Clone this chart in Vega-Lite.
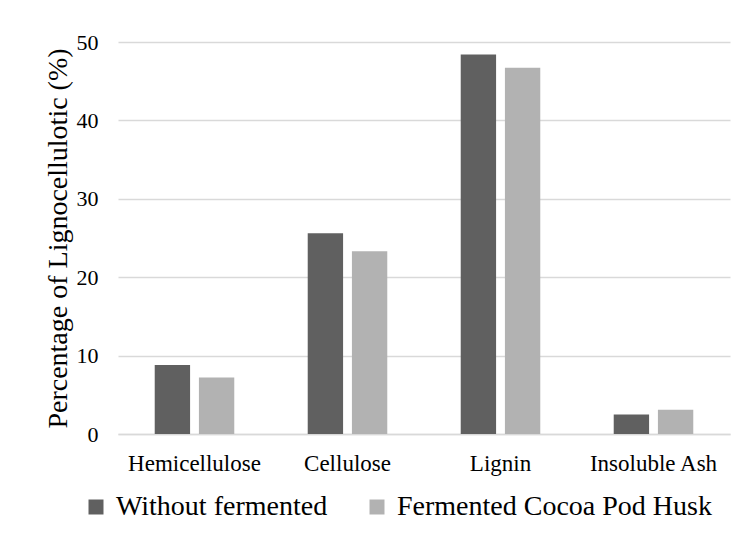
{
  "$schema": "https://vega.github.io/schema/vega-lite/v6.json",
  "autosize": {"type": "none"},
  "padding": {"left": 118, "top": 42, "right": 4, "bottom": 104},
  "width": 612,
  "height": 392,
  "background": "white",
  "config": {
    "view": {"stroke": null},
    "font": "Liberation Serif"
  },
  "data": {
    "values": [
      {"component": "Hemicellulose", "series": "Without fermented", "value": 8.8},
      {"component": "Hemicellulose", "series": "Fermented Cocoa Pod Husk", "value": 7.2},
      {"component": "Cellulose", "series": "Without fermented", "value": 25.6},
      {"component": "Cellulose", "series": "Fermented Cocoa Pod Husk", "value": 23.3},
      {"component": "Lignin", "series": "Without fermented", "value": 48.4},
      {"component": "Lignin", "series": "Fermented Cocoa Pod Husk", "value": 46.7},
      {"component": "Insoluble Ash", "series": "Without fermented", "value": 2.5},
      {"component": "Insoluble Ash", "series": "Fermented Cocoa Pod Husk", "value": 3.1}
    ]
  },
  "mark": {"type": "bar"},
  "encoding": {
    "x": {
      "field": "component",
      "type": "nominal",
      "sort": ["Hemicellulose", "Cellulose", "Lignin", "Insoluble Ash"],
      "scale": {"paddingInner": 0.48, "paddingOuter": 0.24},
      "axis": {
        "title": null,
        "labelAngle": 0,
        "labelFont": "Liberation Serif",
        "labelFontSize": 23,
        "labelColor": "#000000",
        "labelPadding": 18,
        "labelLimit": 300,
        "ticks": false,
        "domainColor": "#d9d9d9",
        "domainWidth": 1.5
      }
    },
    "xOffset": {
      "field": "series",
      "type": "nominal",
      "sort": ["Without fermented", "Fermented Cocoa Pod Husk"],
      "scale": {"paddingInner": 0.2}
    },
    "y": {
      "field": "value",
      "type": "quantitative",
      "scale": {"domain": [0, 50]},
      "axis": {
        "title": "Percentage of  Lignocellulotic (%)",
        "titleFont": "Liberation Serif",
        "titleFontSize": 28,
        "titleFontWeight": "normal",
        "titleColor": "#000000",
        "titleX": -52,
        "titleY": 196,
        "titleBaseline": "alphabetic",
        "titleAngle": -90,
        "titleLimit": 600,
        "values": [0, 10, 20, 30, 40, 50],
        "labelFont": "Liberation Serif",
        "labelFontSize": 22,
        "labelColor": "#000000",
        "labelPadding": 20,
        "ticks": false,
        "domain": false,
        "gridColor": "#d9d9d9",
        "gridWidth": 1.5
      }
    },
    "color": {
      "field": "series",
      "type": "nominal",
      "sort": ["Without fermented", "Fermented Cocoa Pod Husk"],
      "scale": {"domain": ["Without fermented", "Fermented Cocoa Pod Husk"], "range": ["#606060", "#b2b2b2"]},
      "legend": {
        "title": null,
        "orient": "none",
        "direction": "horizontal",
        "legendX": -36,
        "legendY": 451,
        "symbolType": "square",
        "symbolSize": 225,
        "symbolStrokeWidth": 0,
        "labelFont": "Liberation Serif",
        "labelFontSize": 28,
        "labelColor": "#000000",
        "labelLimit": 500,
        "labelOffset": 6,
        "columnPadding": 35
      }
    }
  }
}
